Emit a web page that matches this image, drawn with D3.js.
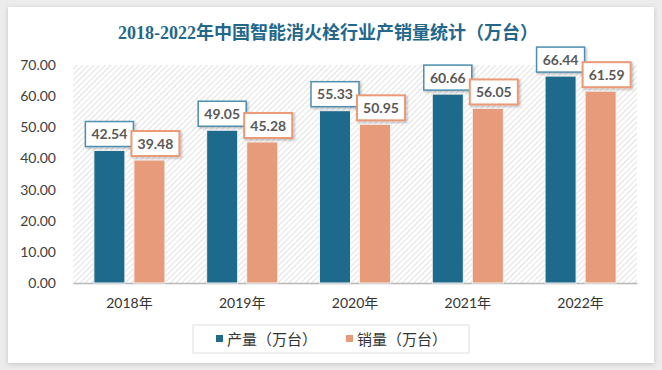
<!DOCTYPE html>
<html>
<head>
<meta charset="utf-8">
<script src="https://cdn.jsdelivr.net/npm/d3@7"></script>
<style>
  body { margin: 0; background: #ececec; }
  svg { display: block; }
</style>
</head>
<body>
<script>
let width = 662;
let height = 370;

let years = ["2018年", "2019年", "2020年", "2021年", "2022年"];
let seriesNames = ["产量（万台）", "销量（万台）"];
let production = [42.54, 49.05, 55.33, 60.66, 66.44];
let sales = [39.48, 45.28, 50.95, 56.05, 61.59];
let yTicks = [0, 10, 20, 30, 40, 50, 60, 70];

let colors = ["#1d6a8d", "#e89b7a"];
let borderColors = ["#4d8fb0", "#eb9a78"];

let svg = d3.select("body").append("svg")
            .attr("width", width)
            .attr("height", height);

let defs = svg.append("defs");

let cardShadow = defs.append("filter").attr("id", "cardShadow")
                     .attr("x", "-5%").attr("y", "-5%").attr("width", "110%").attr("height", "110%");
cardShadow.append("feDropShadow").attr("dx", 0).attr("dy", 1).attr("stdDeviation", 2.5)
          .attr("flood-color", "#000").attr("flood-opacity", 0.18);

let boxShadow = defs.append("filter").attr("id", "boxShadow")
                    .attr("x", "-20%").attr("y", "-20%").attr("width", "150%").attr("height", "150%");
boxShadow.append("feDropShadow").attr("dx", 1.5).attr("dy", 1.5).attr("stdDeviation", 1.2)
         .attr("flood-color", "#000").attr("flood-opacity", 0.25);

// diagonal hatch of the plot area
let hatch = defs.append("pattern").attr("id", "hatch")
                .attr("width", 4).attr("height", 4)
                .attr("patternUnits", "userSpaceOnUse")
                .attr("patternTransform", "rotate(45)");
hatch.append("rect").attr("width", 4).attr("height", 4).attr("fill", "#fff");
hatch.append("line").attr("x1", 0).attr("y1", 0).attr("x2", 0).attr("y2", 4)
     .attr("stroke", "#d6d6d6").attr("stroke-width", 1.4);

// card
svg.append("rect")
   .attr("x", 8).attr("y", 7)
   .attr("width", 646).attr("height", 356)
   .attr("fill", "#fff")
   .attr("filter", "url(#cardShadow)");

svg.append("text")
   .attr("x", 328).attr("y", 39)
   .attr("text-anchor", "middle")
   .attr("font-family", "'Liberation Serif', 'Noto Sans CJK SC', serif")
   .attr("font-weight", "bold")
   .attr("font-size", 18)
   .attr("fill", "#23678a")
   .text("2018-2022年中国智能消火栓行业产销量统计（万台）");

let plotLeft = 73, plotRight = 637, plotTop = 65, plotBottom = 283;

let y = d3.scaleLinear().domain([0, 70]).range([plotBottom, plotTop]);

let x0 = d3.scaleBand().domain(years).range([plotLeft, plotRight])
           .paddingInner(0.37).paddingOuter(0.185);
let x1 = d3.scaleBand().domain([0, 1]).range([0, x0.bandwidth()])
           .paddingInner(0.225);

svg.append("rect")
   .attr("x", plotLeft).attr("y", plotTop)
   .attr("width", plotRight - plotLeft).attr("height", plotBottom - plotTop)
   .attr("fill", "url(#hatch)");

// y axis labels
let yAxis = svg.append("g")
               .attr("transform", "translate(" + (plotLeft - 17) + ",0)")
               .call(d3.axisLeft(y).tickValues(yTicks).tickSize(0).tickPadding(0)
                       .tickFormat(d3.format(".2f")));
yAxis.select(".domain").remove();
yAxis.selectAll("text")
     .attr("font-family", "Lato, 'Liberation Sans', sans-serif")
     .attr("font-size", 14)
     .attr("fill", "#404040");

// x axis
let xAxis = svg.append("g")
               .attr("transform", "translate(0," + plotBottom + ")")
               .call(d3.axisBottom(x0).tickSize(0).tickPadding(15));
xAxis.select(".domain").attr("stroke", "#b8b8b8").attr("stroke-width", 1.5);
xAxis.selectAll("text")
     .attr("font-family", "Lato, 'Noto Sans CJK SC', sans-serif")
     .attr("font-size", 14)
     .attr("fill", "#333");

let rows = [];
years.forEach(function (yr, i) {
  rows.push({ year: yr, s: 0, value: production[i] });
  rows.push({ year: yr, s: 1, value: sales[i] });
});

let bars = svg.append("g").selectAll("rect").data(rows).enter().append("rect");
bars.attr("x", function (d) { return x0(d.year) + x1(d.s); })
    .attr("y", function (d) { return y(d.value); })
    .attr("width", x1.bandwidth())
    .attr("height", function (d) { return plotBottom - y(d.value); })
    .attr("fill", function (d) { return colors[d.s]; })
    .attr("stroke", "#f4f4f4")
    .attr("stroke-width", 1);

// value labels in boxes
let boxW = 48, boxH = 25;
let labels = svg.append("g").selectAll("g").data(rows).enter().append("g")
                .attr("transform", function (d) {
                  let cx = x0(d.year) + x1(d.s) + x1.bandwidth() / 2 + (d.s === 1 ? 6 : 0);
                  return "translate(" + cx + "," + (y(d.value) - 4 - boxH / 2) + ")";
                });
labels.append("rect")
      .attr("x", -boxW / 2).attr("y", -boxH / 2)
      .attr("width", boxW).attr("height", boxH)
      .attr("fill", "#fff")
      .attr("stroke", function (d) { return borderColors[d.s]; })
      .attr("stroke-width", function (d) { return d.s === 1 ? 2 : 1.5; })
      .attr("filter", "url(#boxShadow)");
labels.append("text")
      .attr("text-anchor", "middle")
      .attr("dy", "0.36em")
      .attr("font-family", "Lato, 'Liberation Sans', sans-serif")
      .attr("font-weight", "bold")
      .attr("font-size", 14)
      .attr("fill", "#595959")
      .text(function (d) { return d.value.toFixed(2); });

// legend
let legend = svg.append("g");
legend.append("rect")
      .attr("x", 193).attr("y", 325)
      .attr("width", 276).attr("height", 28)
      .attr("fill", "#fff")
      .attr("stroke", "#dedede");
let legendX = [216, 346];
seriesNames.forEach(function (name, i) {
  legend.append("rect")
        .attr("x", legendX[i]).attr("y", 335)
        .attr("width", 7).attr("height", 7)
        .attr("fill", colors[i]);
  legend.append("text")
        .attr("x", legendX[i] + 11).attr("y", 345)
        .attr("font-family", "'Noto Sans CJK SC', sans-serif")
        .attr("font-size", 15)
        .attr("fill", "#333")
        .text(name);
});
</script>
</body>
</html>
